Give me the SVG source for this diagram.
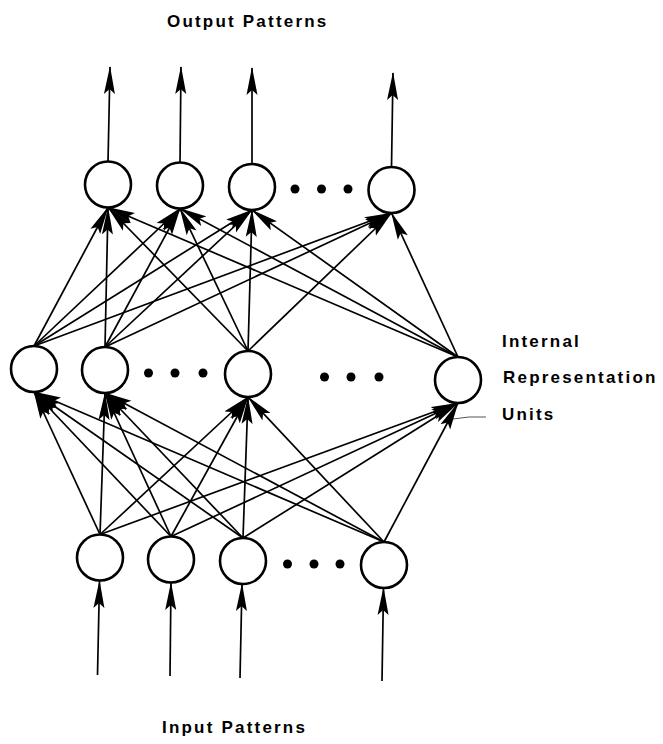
<svg xmlns="http://www.w3.org/2000/svg" width="663" height="744" viewBox="0 0 663 744">
<defs>
<style>
.n{fill:#fff;stroke:#000;stroke-width:2.6}
.d{fill:#000}
.c line{stroke:#000;stroke-width:1.7;marker-end:url(#ah)}
.t{font-family:"Liberation Sans",Arial,sans-serif;font-weight:bold;font-size:17px;fill:#000;letter-spacing:2.2px}
</style>
<marker id="ah" markerUnits="userSpaceOnUse" markerWidth="28" markerHeight="12" viewBox="0 0 28 12" refX="27" refY="6" orient="auto">
<path d="M0,0.5 L28,6 L0,11.5 L5,6 z" fill="#000"/>
</marker>
</defs>
<rect width="663" height="744" fill="#fff"/>
<g id="labels">
<text class="t" x="167" y="27">Output Patterns</text>
<text class="t" x="162" y="733">Input Patterns</text>
<text class="t" x="502" y="347">Internal</text>
<text class="t" x="503" y="383">Representation</text>
<text class="t" x="502" y="420">Units</text>
<path d="M453,419 Q468,416 486,417" fill="none" stroke="#555" stroke-width="1"/>
</g>
<g id="connectors" class="c">
<line x1="108" y1="162" x2="110" y2="67"/>
<line x1="180" y1="163" x2="181" y2="67"/>
<line x1="252" y1="164" x2="252" y2="68"/>
<line x1="391.5" y1="167" x2="393" y2="73"/>
<line x1="97.5" y1="675" x2="99.5" y2="581"/>
<line x1="170" y1="676" x2="171" y2="583"/>
<line x1="240" y1="678" x2="242" y2="584"/>
<line x1="382" y1="681" x2="383.5" y2="588"/>
<line x1="34" y1="346" x2="108" y2="207.5"/>
<line x1="34" y1="346" x2="180" y2="208.5"/>
<line x1="34" y1="346" x2="252" y2="210"/>
<line x1="34" y1="346" x2="391.5" y2="213"/>
<line x1="105" y1="347" x2="108" y2="207.5"/>
<line x1="105" y1="347" x2="180" y2="208.5"/>
<line x1="105" y1="347" x2="252" y2="210"/>
<line x1="105" y1="347" x2="391.5" y2="213"/>
<line x1="248" y1="351" x2="108" y2="207.5"/>
<line x1="248" y1="351" x2="180" y2="208.5"/>
<line x1="248" y1="351" x2="252" y2="210"/>
<line x1="248" y1="351" x2="391.5" y2="213"/>
<line x1="458" y1="357" x2="108" y2="207.5"/>
<line x1="458" y1="357" x2="180" y2="208.5"/>
<line x1="458" y1="357" x2="252" y2="210"/>
<line x1="458" y1="357" x2="391.5" y2="213"/>
<line x1="100" y1="534.5" x2="34" y2="392"/>
<line x1="100" y1="534.5" x2="105" y2="393"/>
<line x1="100" y1="534.5" x2="248" y2="397"/>
<line x1="100" y1="534.5" x2="458" y2="403"/>
<line x1="171" y1="536.5" x2="34" y2="392"/>
<line x1="171" y1="536.5" x2="105" y2="393"/>
<line x1="171" y1="536.5" x2="248" y2="397"/>
<line x1="171" y1="536.5" x2="458" y2="403"/>
<line x1="243" y1="538" x2="34" y2="392"/>
<line x1="243" y1="538" x2="105" y2="393"/>
<line x1="243" y1="538" x2="248" y2="397"/>
<line x1="243" y1="538" x2="458" y2="403"/>
<line x1="384" y1="542" x2="34" y2="392"/>
<line x1="384" y1="542" x2="105" y2="393"/>
<line x1="384" y1="542" x2="248" y2="397"/>
<line x1="384" y1="542" x2="458" y2="403"/>
</g>
<g id="out1"><circle class="n" cx="108" cy="184.5" r="23"/></g>
<g id="out2"><circle class="n" cx="180" cy="185.5" r="23"/></g>
<g id="out3"><circle class="n" cx="252" cy="187" r="23"/></g>
<g id="out-dots"><circle class="d" cx="295" cy="189" r="4.5"/><circle class="d" cx="321.5" cy="189" r="4.5"/><circle class="d" cx="348" cy="189" r="4.5"/></g>
<g id="out4"><circle class="n" cx="391.5" cy="190" r="23"/></g>
<g id="hid1"><circle class="n" cx="34" cy="369" r="23"/></g>
<g id="hid2"><circle class="n" cx="105" cy="370" r="23"/></g>
<g id="hid-dots1"><circle class="d" cx="148.5" cy="373" r="4.5"/><circle class="d" cx="175" cy="373" r="4.5"/><circle class="d" cx="203" cy="373" r="4.5"/></g>
<g id="hid3"><circle class="n" cx="248" cy="374" r="23"/></g>
<g id="hid-dots2"><circle class="d" cx="324.5" cy="377" r="4.5"/><circle class="d" cx="351" cy="377" r="4.5"/><circle class="d" cx="379" cy="377" r="4.5"/></g>
<g id="hid4"><circle class="n" cx="458" cy="380" r="23"/></g>
<g id="in1"><circle class="n" cx="100" cy="557.5" r="23"/></g>
<g id="in2"><circle class="n" cx="171" cy="559.5" r="23"/></g>
<g id="in3"><circle class="n" cx="243" cy="561" r="23"/></g>
<g id="in-dots"><circle class="d" cx="287.5" cy="564" r="4.5"/><circle class="d" cx="314" cy="564" r="4.5"/><circle class="d" cx="340" cy="564" r="4.5"/></g>
<g id="in4"><circle class="n" cx="384" cy="565" r="23"/></g>
</svg>
